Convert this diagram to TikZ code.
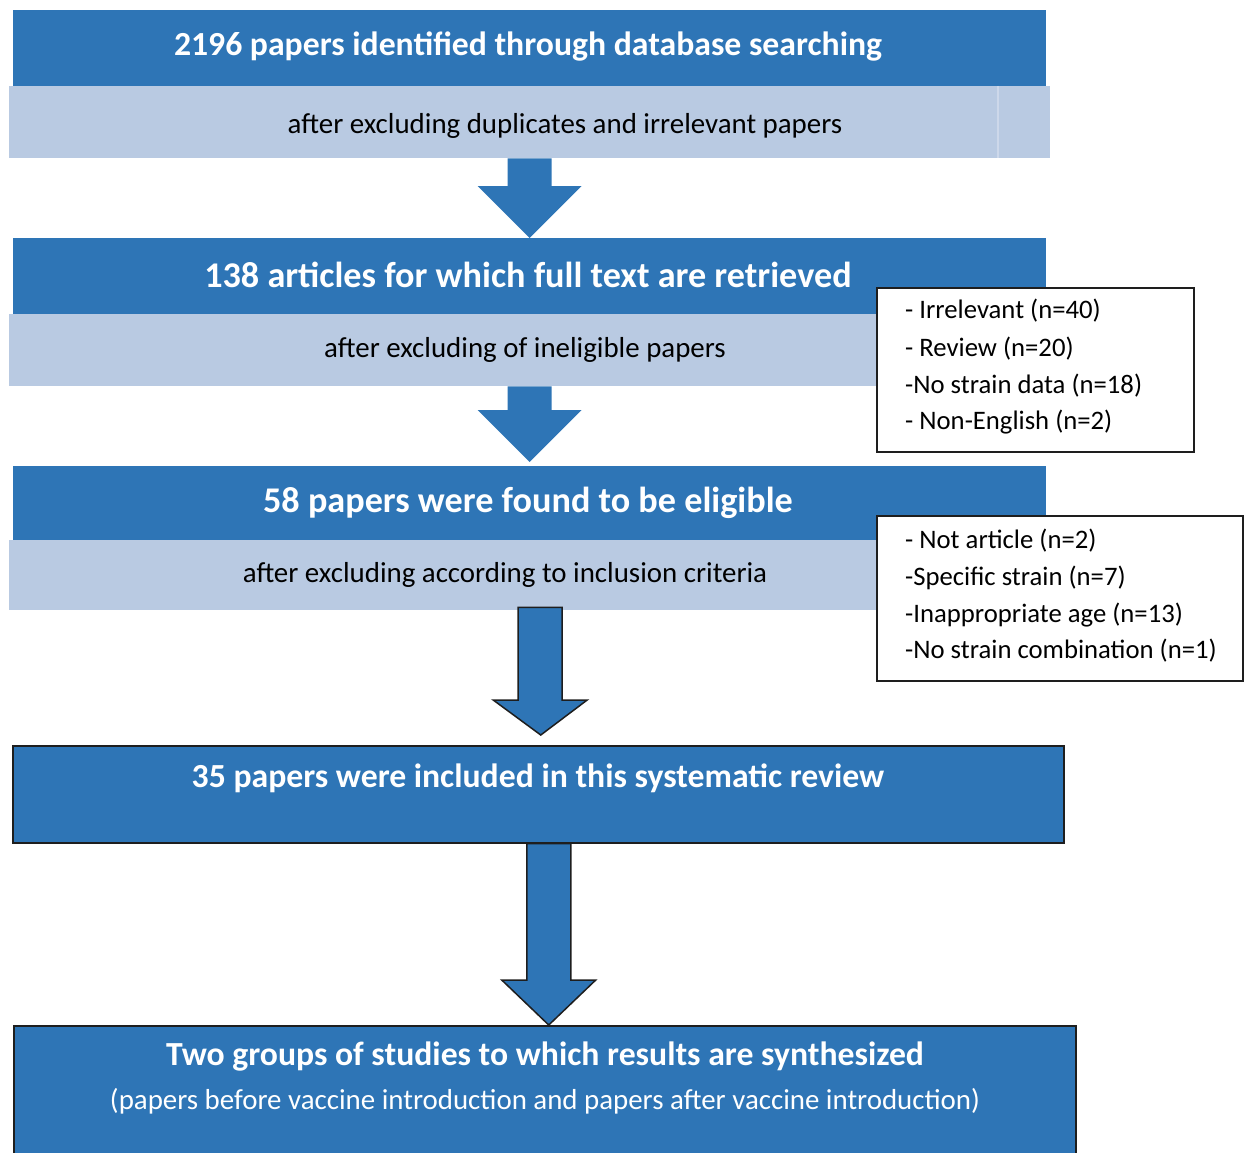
\documentclass[tikz,border=0pt]{standalone}
\usepackage{fontspec}
\setmainfont{Carlito}
\usetikzlibrary{calc}
\definecolor{dblue}{RGB}{46,117,182}
\definecolor{lblue}{RGB}{185,202,226}
\definecolor{lline}{RGB}{205,216,234}
\definecolor{edge}{RGB}{30,30,30}
\newcommand{\blockarr}[6]{%
  \path[#1] let \p1=#2, \p2=#3 in
    (\x1-#4pt,\y1) -- (\x1+#4pt,\y1) -- (\x1+#4pt,\y2+#6pt) -- (\x1+#5pt,\y2+#6pt)
    -- (\x2,\y2) -- (\x1-#5pt,\y2+#6pt) -- (\x1-#4pt,\y2+#6pt) -- cycle;}
\begin{document}
\begin{tikzpicture}[x=1pt,y=-1pt,
  darkbox/.style={fill=dblue, draw=none, inner sep=0, anchor=north west},
  lightbox/.style={fill=lblue, draw=none, inner sep=0, anchor=north west},
  outbox/.style={fill=dblue, draw=edge, line width=1.5pt, inner sep=0, anchor=north west},
  sidebox/.style={fill=white, draw=edge, line width=1.5pt, inner sep=0, anchor=north west},
  head/.style={text=white, font=\fontsize{33.7}{38}\selectfont\bfseries, inner sep=0},
  headb/.style={text=white, font=\fontsize{36.2}{40}\selectfont\bfseries, inner sep=0},
  sub/.style={text=black, font=\fontsize{28.9}{33}\selectfont, inner sep=0},
  subw/.style={text=white, font=\fontsize{28.9}{33}\selectfont, inner sep=0},
  item/.style={text=black, font=\fontsize{26.7}{30}\selectfont, inner sep=0, anchor=west},
  plainarr/.style={fill=dblue},
  edgearr/.style={fill=dblue, draw=edge, line width=1.5pt, line join=miter}]
\useasboundingbox (0,0) rectangle (1244,1153);
% row 1
\node[darkbox, minimum width=1033pt, minimum height=76pt] (b1) at (13,10) {};
\node[lightbox, minimum width=1041pt, minimum height=72pt] (l1) at (9,86) {};
\draw[lline, line width=1.2pt] (l1.north west -| 998,0) coordinate (v1) -- (l1.south west -| 998,0) coordinate (v2);
\node[head] (t1) at (528,47) {2196 papers identified through database searching};
\node[sub] (s1) at (565,126) {after excluding duplicates and irrelevant papers};
% row 2
\node[darkbox, minimum width=1033pt, minimum height=76pt] (b2) at (13,238) {};
\node[lightbox, minimum width=1041pt, minimum height=72pt] (l2) at (9,314) {};
\node[headb] (t2) at (528,275) {138 articles for which full text are retrieved};
\node[sub] (s2) at (525,350) {after excluding of ineligible papers};
% row 3
\node[darkbox, minimum width=1033pt, minimum height=74pt] (b3) at (13,466) {};
\node[lightbox, minimum width=1041pt, minimum height=70pt] (l3) at (9,540) {};
\node[headb] (t3) at (528,503) {58 papers were found to be eligible};
\node[sub] (s3) at (505,575) {after excluding according to inclusion criteria};
% side boxes
\node[sidebox, minimum width=317pt, minimum height=164pt] (x1) at (876,287) {};
\node[item] (x1a) at (905,311) {- Irrelevant (n=40)};
\node[item] (x1b) at (905,349) {- Review (n=20)};
\node[item] (x1c) at (905,386) {-No strain data (n=18)};
\node[item] (x1d) at (905,422) {- Non-English (n=2)};
\node[sidebox, minimum width=366pt, minimum height=165pt] (x2) at (876,515) {};
\node[item] (x2a) at (905,541) {- Not article (n=2)};
\node[item] (x2b) at (905,578) {-Specific strain (n=7)};
\node[item] (x2c) at (905,615) {-Inappropriate age (n=13)};
\node[item] (x2d) at (905,651) {-No strain combination (n=1)};
% row 4
\node[outbox, minimum width=1051pt, minimum height=97pt] (b4) at (12,745) {};
\node[head] (t4) at (538,778) {35 papers were included in this systematic review};
% row 5
\node[outbox, minimum width=1062pt, minimum height=140pt] (b5) at (13,1025) {};
\node[head] (t5a) at (545,1057) {Two groups of studies to which results are synthesized};
\node[subw] (t5b) at (545,1101) {(papers before vaccine introduction and papers after vaccine introduction)};
% arrows
\blockarr{plainarr}{(l1.south)}{(b2.north)}{22}{52}{52}
\blockarr{plainarr}{(l2.south)}{($(b3.north)+(0,-4)$)}{22}{52}{52}
\blockarr{edgearr}{($(l3.south)+(10.5,-3)$)}{($(b4.north)+(2.5,-10)$)}{22}{47}{35}
\blockarr{edgearr}{($(b4.south)+(10.5,0)$)}{($(b5.north)+(4,0)$)}{22}{47}{45}
\end{tikzpicture}
\end{document}
